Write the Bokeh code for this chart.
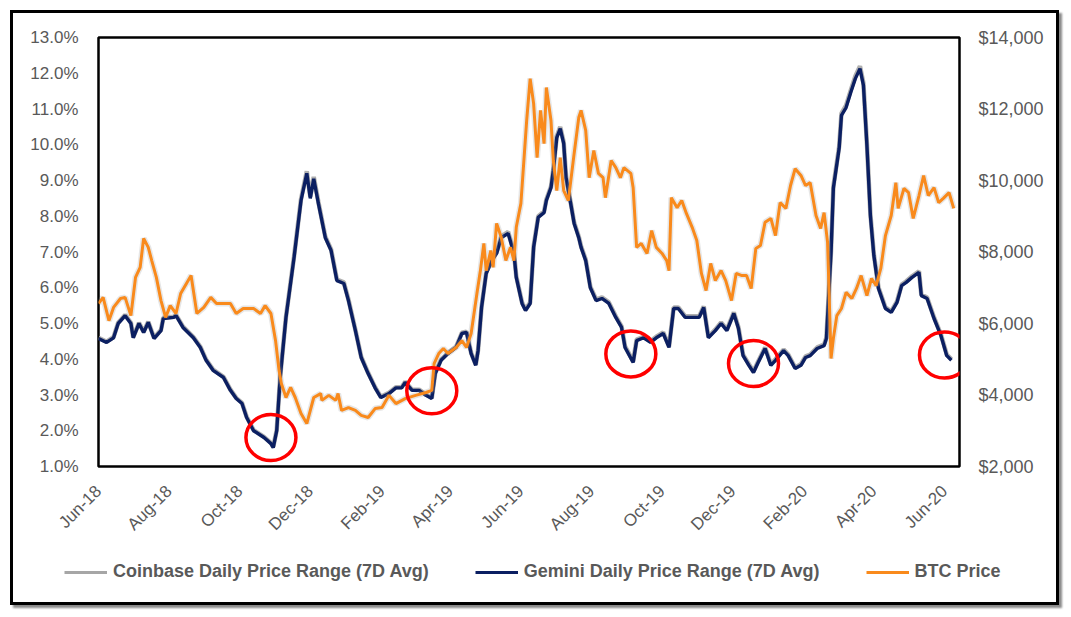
import math
import pandas as pd
from bokeh.plotting import figure
from bokeh.layouts import column
from bokeh.models import (Range1d, LinearAxis, FixedTicker, PrintfTickFormatter,
                          NumeralTickFormatter, DatetimeTickFormatter, Legend, LegendItem)
from bokeh.embed import file_html
from bokeh.resources import INLINE

# ---------------- data ----------------
range_dates = [
    "2018-06-15", "2018-06-22", "2018-06-28", "2018-07-02", "2018-07-08", "2018-07-13", "2018-07-15", "2018-07-20", "2018-07-24", "2018-07-28",
    "2018-08-02", "2018-08-08", "2018-08-10", "2018-08-19", "2018-08-21", "2018-08-27", "2018-09-05", "2018-09-11", "2018-09-16", "2018-09-22",
    "2018-10-01", "2018-10-07", "2018-10-12", "2018-10-17", "2018-10-21", "2018-10-27", "2018-11-05", "2018-11-11", "2018-11-13", "2018-11-16",
    "2018-11-19", "2018-11-24", "2018-12-01", "2018-12-07", "2018-12-12", "2018-12-15", "2018-12-18", "2018-12-22", "2018-12-28", "2019-01-02",
    "2019-01-07", "2019-01-13", "2019-01-17", "2019-01-23", "2019-01-28", "2019-02-03", "2019-02-09", "2019-02-14", "2019-02-21", "2019-02-27",
    "2019-03-04", "2019-03-07", "2019-03-13", "2019-03-19", "2019-03-25", "2019-03-30", "2019-04-02", "2019-04-07", "2019-04-13", "2019-04-20",
    "2019-04-25", "2019-04-29", "2019-05-03", "2019-05-07", "2019-05-09", "2019-05-12", "2019-05-16", "2019-05-21", "2019-05-25", "2019-05-29",
    "2019-06-04", "2019-06-09", "2019-06-11", "2019-06-16", "2019-06-19", "2019-06-23", "2019-06-26", "2019-06-30", "2019-07-05", "2019-07-07",
    "2019-07-11", "2019-07-13", "2019-07-16", "2019-07-19", "2019-07-22", "2019-07-24", "2019-07-28", "2019-07-31", "2019-08-04", "2019-08-06",
    "2019-08-10", "2019-08-14", "2019-08-19", "2019-08-24", "2019-08-30", "2019-09-05", "2019-09-10", "2019-09-13", "2019-09-20", "2019-09-23",
    "2019-09-29", "2019-10-05", "2019-10-10", "2019-10-16", "2019-10-21", "2019-10-25", "2019-10-29", "2019-11-04", "2019-11-10", "2019-11-16",
    "2019-11-20", "2019-11-24", "2019-11-30", "2019-12-05", "2019-12-10", "2019-12-16", "2019-12-20", "2019-12-24", "2019-12-29", "2020-01-02",
    "2020-01-06", "2020-01-12", "2020-01-17", "2020-01-21", "2020-01-28", "2020-02-01", "2020-02-07", "2020-02-12", "2020-02-16", "2020-02-20",
    "2020-02-26", "2020-03-03", "2020-03-05", "2020-03-09", "2020-03-11", "2020-03-16", "2020-03-18", "2020-03-22", "2020-03-26", "2020-03-30",
    "2020-04-03", "2020-04-06", "2020-04-09", "2020-04-12", "2020-04-15", "2020-04-19", "2020-04-25", "2020-04-30", "2020-05-05", "2020-05-09",
    "2020-05-13", "2020-05-18", "2020-05-24", "2020-05-26", "2020-05-31", "2020-06-06", "2020-06-12", "2020-06-17", "2020-06-21",
]

gemini_range = [
    4.58, 4.47, 4.60, 5.00, 5.22, 5.00, 4.60, 5.00, 4.75, 5.03,
    4.58, 4.80, 5.14, 5.17, 5.22, 4.89, 4.60, 4.33, 3.97, 3.69,
    3.49, 3.13, 2.90, 2.76, 2.37, 2.00, 1.81, 1.64, 1.53, 2.00,
    3.49, 5.17, 6.85, 8.44, 9.20, 8.50, 9.05, 8.36, 7.40, 7.04,
    6.20, 6.12, 5.64, 4.80, 4.05, 3.60, 3.20, 2.93, 3.04, 3.20,
    3.20, 3.35, 3.13, 3.13, 2.99, 2.90, 3.60, 3.97, 4.16, 4.33,
    4.72, 4.75, 4.16, 3.83, 4.24, 5.45, 6.40, 6.76, 6.96, 7.40,
    7.52, 6.96, 6.29, 5.56, 5.36, 5.56, 7.13, 7.97, 8.10, 8.44,
    8.80, 9.28, 10.20, 10.45, 10.03, 9.08, 8.36, 7.80, 7.40, 7.13,
    6.76, 6.00, 5.64, 5.70, 5.56, 5.17, 4.89, 4.33, 3.91, 4.52,
    4.60, 4.47, 4.60, 4.72, 4.33, 5.42, 5.42, 5.17, 5.17, 5.17,
    5.45, 4.60, 4.80, 5.00, 4.80, 5.28, 4.86, 4.10, 3.83, 3.63,
    3.91, 4.30, 3.83, 3.97, 4.24, 4.10, 3.74, 3.83, 4.05, 4.10,
    4.30, 4.38, 4.58, 6.99, 8.78, 9.90, 10.82, 11.04, 11.46, 11.85,
    12.13, 11.66, 9.98, 8.02, 6.90, 5.98, 5.42, 5.31, 5.59, 6.06,
    6.15, 6.29, 6.43, 5.78, 5.70, 5.14, 4.66, 4.10, 3.97,
]

coinbase_range = [
    4.60, 4.49, 4.62, 5.02, 5.24, 5.02, 4.62, 5.02, 4.77, 5.05,
    4.60, 4.82, 5.16, 5.19, 5.24, 4.91, 4.62, 4.35, 3.99, 3.71,
    3.51, 3.15, 2.92, 2.78, 2.39, 2.02, 1.83, 1.66, 1.55, 2.02,
    3.51, 5.19, 6.88, 8.48, 9.26, 8.55, 9.10, 8.40, 7.43, 7.07,
    6.23, 6.15, 5.67, 4.82, 4.07, 3.62, 3.22, 2.95, 3.06, 3.22,
    3.22, 3.37, 3.15, 3.15, 3.01, 2.92, 3.62, 3.99, 4.18, 4.35,
    4.74, 4.77, 4.18, 3.85, 4.26, 5.47, 6.43, 6.79, 6.99, 7.43,
    7.56, 6.99, 6.32, 5.59, 5.39, 5.59, 7.16, 8.00, 8.13, 8.47,
    8.83, 9.31, 10.24, 10.50, 10.07, 9.11, 8.39, 7.83, 7.43, 7.16,
    6.79, 6.03, 5.67, 5.73, 5.59, 5.20, 4.92, 4.36, 3.94, 4.55,
    4.63, 4.50, 4.63, 4.75, 4.36, 5.45, 5.45, 5.20, 5.20, 5.20,
    5.48, 4.63, 4.83, 5.03, 4.83, 5.31, 4.89, 4.13, 3.86, 3.66,
    3.94, 4.33, 3.86, 4.00, 4.27, 4.13, 3.77, 3.86, 4.08, 4.13,
    4.33, 4.41, 4.61, 7.03, 8.83, 9.95, 10.88, 11.10, 11.52, 11.92,
    12.20, 11.72, 10.03, 8.06, 6.94, 6.01, 5.45, 5.34, 5.62, 6.09,
    6.18, 6.32, 6.46, 5.81, 5.73, 5.17, 4.69, 4.13, 4.00,
]

btc_dates = [
    "2018-06-15", "2018-06-19", "2018-06-24", "2018-06-28", "2018-07-04", "2018-07-08", "2018-07-13", "2018-07-17", "2018-07-21", "2018-07-24",
    "2018-07-28", "2018-07-31", "2018-08-04", "2018-08-08", "2018-08-12", "2018-08-16", "2018-08-21", "2018-08-25", "2018-08-30", "2018-09-03",
    "2018-09-08", "2018-09-14", "2018-09-20", "2018-09-25", "2018-10-01", "2018-10-07", "2018-10-12", "2018-10-18", "2018-10-27", "2018-11-02",
    "2018-11-06", "2018-11-11", "2018-11-15", "2018-11-18", "2018-11-20", "2018-11-24", "2018-11-28", "2018-12-02", "2018-12-07", "2018-12-12",
    "2018-12-18", "2018-12-24", "2018-12-25", "2018-12-31", "2019-01-06", "2019-01-08", "2019-01-11", "2019-01-17", "2019-01-23", "2019-01-28",
    "2019-02-03", "2019-02-09", "2019-02-15", "2019-02-21", "2019-02-27", "2019-03-07", "2019-03-16", "2019-03-25", "2019-03-30", "2019-04-01",
    "2019-04-05", "2019-04-09", "2019-04-13", "2019-04-20", "2019-04-25", "2019-04-29", "2019-05-03", "2019-05-08", "2019-05-11", "2019-05-14",
    "2019-05-16", "2019-05-20", "2019-05-22", "2019-05-25", "2019-05-29", "2019-06-02", "2019-06-06", "2019-06-09", "2019-06-11", "2019-06-15",
    "2019-06-18", "2019-06-20", "2019-06-23", "2019-06-26", "2019-06-29", "2019-07-02", "2019-07-05", "2019-07-07", "2019-07-11", "2019-07-13",
    "2019-07-16", "2019-07-19", "2019-07-22", "2019-07-26", "2019-07-31", "2019-08-04", "2019-08-06", "2019-08-10", "2019-08-13", "2019-08-17",
    "2019-08-21", "2019-08-25", "2019-08-27", "2019-09-01", "2019-09-05", "2019-09-09", "2019-09-12", "2019-09-18", "2019-09-20", "2019-09-23",
    "2019-09-27", "2019-10-02", "2019-10-06", "2019-10-10", "2019-10-15", "2019-10-19", "2019-10-21", "2019-10-23", "2019-10-28", "2019-11-01",
    "2019-11-05", "2019-11-10", "2019-11-14", "2019-11-18", "2019-11-22", "2019-11-26", "2019-11-30", "2019-12-05", "2019-12-09", "2019-12-14",
    "2019-12-18", "2019-12-23", "2019-12-27", "2019-12-31", "2020-01-04", "2020-01-08", "2020-01-12", "2020-01-17", "2020-01-21", "2020-01-25",
    "2020-01-30", "2020-02-03", "2020-02-07", "2020-02-12", "2020-02-16", "2020-02-20", "2020-02-25", "2020-02-29", "2020-03-03", "2020-03-06",
    "2020-03-09", "2020-03-11", "2020-03-14", "2020-03-18", "2020-03-22", "2020-03-27", "2020-03-31", "2020-04-04", "2020-04-09", "2020-04-13",
    "2020-04-17", "2020-04-21", "2020-04-25", "2020-04-30", "2020-05-04", "2020-05-06", "2020-05-11", "2020-05-15", "2020-05-19", "2020-05-24",
    "2020-05-28", "2020-06-01", "2020-06-06", "2020-06-10", "2020-06-14", "2020-06-19", "2020-06-23",
]

btc_price = [
    6560, 6730, 6080, 6450, 6700, 6730, 6220, 7290, 7570, 8380,
    8130, 7760, 7290, 6640, 6170, 6500, 6280, 6840, 7120, 7340,
    6280, 6450, 6730, 6560, 6560, 6560, 6280, 6420, 6420, 6280,
    6500, 6280, 5520, 4690, 4320, 3930, 4210, 3930, 3480, 3200,
    3930, 4040, 3850, 3990, 3850, 4040, 3570, 3650, 3570, 3430,
    3370, 3620, 3650, 3990, 3760, 3900, 3990, 4070, 4130, 4880,
    5160, 5300, 5160, 5330, 5520, 5330, 5720, 6840, 7480, 8240,
    7480, 8040, 7570, 8800, 8410, 7760, 8130, 7760, 8690, 9360,
    10750, 11680, 12850, 12150, 10640, 11960, 11030, 12600, 11680, 10560,
    9720, 10640, 9720, 9440, 10750, 11760, 11960, 11400, 10080, 10840,
    10200, 10080, 9520, 10560, 10360, 10080, 10360, 10200, 9800, 8130,
    8240, 7960, 8600, 8130, 7960, 7760, 7480, 9520, 9240, 9440,
    9080, 8690, 8320, 7400, 6920, 7680, 7200, 7480, 7200, 6640,
    7400, 7340, 7340, 6980, 8100, 8180, 8830, 8940, 8460, 9380,
    9220, 9860, 10330, 10140, 9860, 9940, 9020, 8660, 9100, 8270,
    5020, 5580, 6220, 6420, 6870, 6700, 6980, 7340, 6780, 7260,
    7060, 7540, 8460, 9020, 9940, 9220, 9780, 9660, 8940, 9580,
    10140, 9580, 9800, 9380, 9500, 9660, 9220,
]

x_tick_dates = ["2018-06-15", "2018-08-15", "2018-10-15", "2018-12-15", "2019-02-15", "2019-04-15", "2019-06-15",
                "2019-08-15", "2019-10-15", "2019-12-15", "2020-02-15", "2020-04-15", "2020-06-15"]
left_ticks = [1, 2, 3, 4, 5, 6, 7, 8, 9, 10, 11, 12, 13]
right_ticks = [2000, 4000, 6000, 8000, 10000, 12000, 14000]

circle_dates = ["2018-11-11", "2019-03-30", "2019-09-18", "2020-01-02", "2020-06-15"]
circle_values = [1.81, 3.12, 4.15, 3.88, 4.12]

series_names = ["Coinbase Daily Price Range (7D Avg)", "Gemini Daily Price Range (7D Avg)", "BTC Price"]
series_colors = ["#A6A6A6", "#0B1F62", "#F98A1C"]

# ---------------- main figure ----------------
GRAY_TXT = "#595959"
FONT = "Liberation Sans"

p = figure(width=1043, height=531, x_axis_type="datetime",
           x_range=Range1d(pd.Timestamp("2018-06-15"), pd.Timestamp("2020-06-28")),
           y_range=Range1d(1, 13),
           output_backend="svg", toolbar_location=None,
           min_border_left=85, min_border_right=97, min_border_top=24, min_border_bottom=78)

p.background_fill_color = "white"
p.border_fill_color = "white"
p.outline_line_color = "black"
p.outline_line_width = 2.5
p.xgrid.visible = False
p.ygrid.visible = False

p.extra_y_ranges = {"btc": Range1d(2000, 14000)}

rd = pd.to_datetime(range_dates)
bd = pd.to_datetime(btc_dates)

p.line(rd, coinbase_range, line_color=series_colors[0], line_width=4.5, line_alpha=0.9)
p.line(rd, gemini_range, line_color=series_colors[1], line_width=3.4)
p.line(bd, btc_price, y_range_name="btc", line_color="#9a9a9a", line_width=6, line_alpha=0.25)
p.line(bd, btc_price, y_range_name="btc", line_color=series_colors[2], line_width=3)

p.ellipse(x=pd.to_datetime(circle_dates), y=circle_values, width=50, height=46,
          width_units="screen", height_units="screen",
          fill_color=None, line_color="#FF0000", line_width=3.5)

ya = p.yaxis[0]
ya.ticker = FixedTicker(ticks=left_ticks)
ya.formatter = PrintfTickFormatter(format="%.1f%%")

ra = LinearAxis(y_range_name="btc", ticker=FixedTicker(ticks=right_ticks),
                formatter=NumeralTickFormatter(format="$0,0"))
p.add_layout(ra, "right")

xa = p.xaxis[0]
xa.ticker = FixedTicker(ticks=[pd.Timestamp(d).value / 1e6 for d in x_tick_dates])
fmt = "%b-%y"
xa.formatter = DatetimeTickFormatter(milliseconds=fmt, seconds=fmt, minsec=fmt, minutes=fmt,
                                     hourmin=fmt, hours=fmt, days=fmt, months=fmt, years=fmt)
xa.major_label_orientation = math.pi / 4

for ax, size in ((ya, "17px"), (ra, "18px"), (xa, "17px")):
    ax.axis_line_color = None
    ax.major_tick_line_color = None
    ax.minor_tick_line_color = None
    ax.major_tick_in = 0
    ax.major_tick_out = 0
    ax.major_label_text_font = FONT
    ax.major_label_text_font_size = size
    ax.major_label_text_color = GRAY_TXT
ya.major_label_standoff = 20
ra.major_label_standoff = 19
xa.major_label_standoff = 22

# ---------------- legend strip ----------------
leg = figure(width=1043, height=58, x_range=Range1d(0, 1), y_range=Range1d(0, 1),
             output_backend="svg", toolbar_location=None,
             x_axis_location=None, y_axis_location=None,
             min_border_left=0, min_border_right=0, min_border_top=0, min_border_bottom=0)
leg.outline_line_color = None
leg.xgrid.visible = False
leg.ygrid.visible = False
leg.background_fill_color = "white"
leg.border_fill_color = "white"
for fig in (p, leg):
    if "frame_align" in fig.properties():
        fig.frame_align = False

leg_items = []
for name, col in zip(series_names, series_colors):
    r = leg.line(x=[float("nan")], y=[float("nan")], line_color=col, line_width=3)
    leg_items.append(LegendItem(label=name, renderers=[r]))

legend = Legend(items=leg_items, location=(51, 20), orientation="horizontal",
                label_text_font=FONT, label_text_font_style="bold",
                label_text_font_size="18px", label_text_color=GRAY_TXT,
                glyph_width=43, glyph_height=20, label_height=20, label_standoff=6,
                spacing=46, padding=0, margin=0,
                border_line_color=None, background_fill_alpha=0)
leg.add_layout(legend)

layout = column(p, leg, spacing=0, margin=(10, 0, 0, 10),
                styles={"border": "3px solid #000000", "box-shadow": "3px 3px 2px #8a8a8a",
                        "background": "white"})

open("out.html", "w").write(file_html(layout, INLINE))
